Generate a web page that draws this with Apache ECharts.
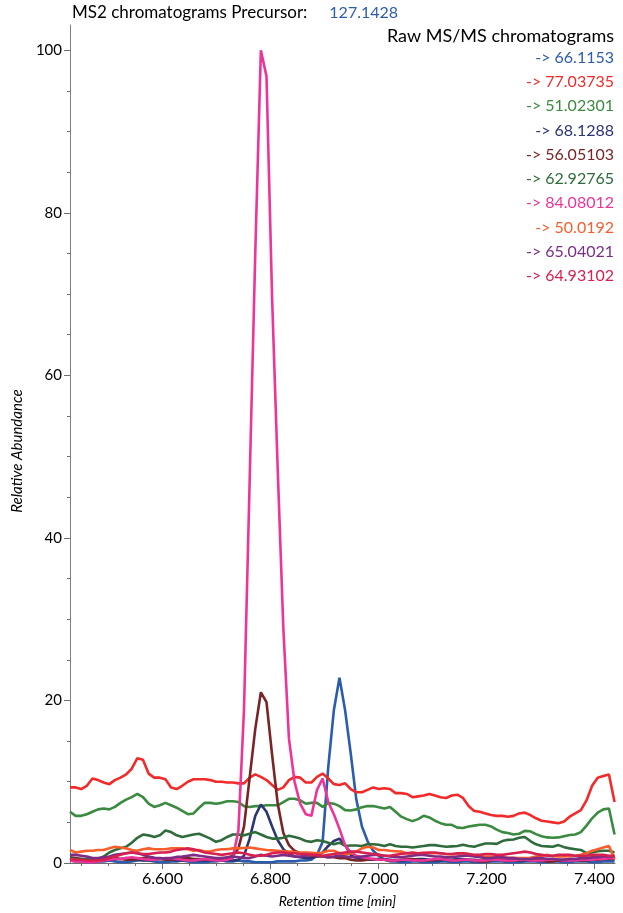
<!DOCTYPE html>
<html><head><meta charset="utf-8">
<script src="https://cdn.jsdelivr.net/npm/echarts@6/dist/echarts.min.js"></script>
<style>html,body{margin:0;padding:0;background:#fff}#c{width:623px;height:913px}</style>
</head><body><div id="c"></div>
<script>
// Retention times of the scans (min)
const times = [6.4287,6.4391,6.4495,6.4599,6.4703,6.4807,6.4911,6.5015,6.5119,6.5223,
6.5327,6.5431,6.5535,6.5639,6.5743,6.5847,6.5951,6.6055,6.6159,6.6263,
6.6367,6.6471,6.6575,6.6679,6.6783,6.6887,6.6991,6.7095,6.7199,6.7303,
6.7407,6.7511,6.7615,6.7719,6.7823,6.7927,6.8031,6.8135,6.8239,6.8343,
6.8447,6.8551,6.8655,6.8759,6.8863,6.8967,6.9071,6.9175,6.9279,6.9383,
6.9487,6.9591,6.9695,6.9799,6.9903,7.0007,7.0111,7.0215,7.0319,7.0423,
7.0527,7.0631,7.0735,7.0839,7.0943,7.1047,7.1151,7.1255,7.1359,7.1463,
7.1567,7.1671,7.1775,7.1879,7.1983,7.2087,7.2191,7.2295,7.2399,7.2503,
7.2607,7.2711,7.2815,7.2919,7.3023,7.3127,7.3231,7.3335,7.3439,7.3543,
7.3647,7.3751,7.3855,7.3959,7.4063,7.4167,7.4271,7.4375];

const mz66_1153 = [0.3,0.2,0.2,0.1,0.1,0.2,0.2,0.3,0.2,0.1,
0.1,0.2,0.3,0.4,0.3,0.2,0.1,0.1,0.2,0.2,
0.3,0.2,0.1,0.1,0.1,0.2,0.2,0.3,0.2,0.2,
0.3,0.2,0.2,0.1,0.1,0.1,0.1,0.2,0.2,0.2,
0.2,0.3,0.3,0.4,1.0,2.6,11.8,18.8,22.8,18.8,
13.5,7.8,4.5,2.7,1.5,0.9,0.4,0.2,0.2,0.1,
0.1,0.2,0.2,0.1,0.1,0.1,0.2,0.2,0.1,0.1,
0.2,0.2,0.1,0.1,0.1,0.2,0.2,0.2,0.1,0.1,
0.1,0.2,0.2,0.2,0.1,0.1,0.2,0.2,0.1,0.1,
0.2,0.2,0.2,0.1,0.1,0.2,0.2,0.2];

const mz77_03735 = [9.3,9.3,9.1,9.5,10.4,10.2,9.9,9.7,10.2,10.5,
10.9,11.6,12.9,12.7,11.0,10.5,10.5,10.3,9.3,9.1,
9.5,10.0,10.3,10.3,10.3,10.2,10.0,10.0,9.9,9.9,
9.8,9.8,10.5,10.9,10.6,10.2,9.6,9.0,9.3,10.2,
10.6,10.5,9.9,9.9,10.6,11.0,10.4,9.7,9.6,9.8,
9.1,8.7,8.7,9.0,9.3,9.1,9.2,9.1,8.6,8.6,
8.5,8.1,8.2,8.3,8.5,8.3,8.1,8.0,8.3,8.4,
8.0,7.0,6.4,6.3,6.1,5.9,5.8,5.8,5.7,5.8,
6.1,6.2,5.9,5.5,5.2,5.1,5.0,4.9,5.1,5.7,
6.1,6.5,7.7,9.5,10.5,10.7,10.9,7.5];

const mz51_02301 = [6.3,5.8,5.8,6.0,6.3,6.6,6.7,6.6,6.9,7.4,
7.8,8.1,8.5,8.1,7.3,6.9,7.1,7.4,7.1,6.8,
6.4,6.0,6.1,6.8,7.4,7.4,7.3,7.4,7.6,7.6,
7.5,7.0,6.9,7.0,7.0,7.1,7.1,7.1,7.5,7.9,
7.9,7.7,7.3,7.4,7.4,6.9,7.4,7.3,7.0,6.5,
6.45,6.6,6.85,7.0,7.0,6.85,6.7,6.9,6.3,5.7,
5.4,5.15,5.4,5.8,5.6,5.2,4.9,4.7,4.7,4.35,
4.3,4.5,4.6,4.7,4.7,4.5,4.1,3.8,3.7,3.5,
3.6,3.95,3.9,3.55,3.3,3.15,3.1,3.15,3.3,3.45,
3.5,3.8,4.6,5.5,6.2,6.6,6.7,3.5];

const mz68_1288 = [0.6,0.5,0.5,0.4,0.4,0.3,0.3,0.4,0.5,0.5,
0.6,0.5,0.4,0.3,0.3,0.4,0.5,0.5,0.4,0.3,
0.3,0.4,0.4,0.3,0.3,0.3,0.4,0.4,0.3,0.3,
0.4,0.9,3.0,5.8,7.2,6.3,4.5,2.8,1.7,1.1,
0.8,0.7,0.6,0.6,0.8,1.3,2.1,2.7,3.0,2.2,
1.0,0.6,0.5,0.4,0.4,0.5,0.5,0.4,0.3,0.3,
0.4,0.4,0.5,0.5,0.4,0.3,0.3,0.4,0.4,0.5,
0.5,0.4,0.4,0.3,0.3,0.4,0.4,0.5,0.5,0.4,
0.4,0.3,0.3,0.4,0.4,0.5,0.5,0.4,0.4,0.5,
0.5,0.5,0.6,0.6,0.5,0.5,0.6,0.6];

const mz56_05103 = [0.7,0.6,0.5,0.5,0.4,0.4,0.5,0.6,0.6,0.5,
0.4,0.4,0.5,0.6,0.7,0.6,0.5,0.4,0.4,0.5,
0.6,0.6,0.5,0.5,0.4,0.4,0.5,0.5,0.6,0.9,
1.8,4.5,10.5,16.5,21.0,19.8,13.3,7.3,3.7,2.2,
1.5,1.2,1.0,0.9,0.8,0.8,0.7,0.7,0.6,0.6,
0.4,0.3,0.3,0.4,0.5,0.5,0.4,0.3,0.3,0.4,
0.5,0.5,0.4,0.3,0.3,0.4,0.5,0.4,0.3,0.3,
0.4,0.4,0.3,0.2,0.2,0.3,0.4,0.4,0.3,0.3,
0.3,0.4,0.4,0.3,0.3,0.2,0.2,0.3,0.3,0.4,
0.4,0.3,0.3,0.4,0.4,0.5,0.5,0.5];

const mz62_92765 = [0.6,0.5,0.4,0.5,0.5,0.5,0.8,1.3,1.6,1.8,
2.0,2.5,3.1,3.5,3.4,3.2,3.4,4.0,3.8,3.4,
3.2,3.35,3.5,3.6,3.3,3.0,2.6,2.8,3.2,3.5,
3.5,3.4,3.6,3.8,3.5,3.2,3.0,3.0,3.1,3.35,
3.2,3.0,2.7,2.6,2.8,2.7,2.5,2.3,2.5,2.1,
2.15,2.15,2.1,2.3,2.3,2.25,2.1,2.3,2.1,2.0,
2.0,1.9,2.0,2.1,2.2,2.2,2.1,2.0,2.05,2.1,
2.25,2.1,2.0,2.2,2.4,2.4,2.35,2.7,2.85,2.9,
3.1,3.2,2.7,2.3,2.1,2.05,2.0,2.2,1.95,1.8,
1.7,1.6,1.2,1.3,1.45,1.5,1.5,1.3];

const mz84_08012 = [0.3,0.2,0.2,0.1,0.1,0.2,0.3,0.4,0.5,0.5,
0.6,0.7,0.6,0.5,0.4,0.4,0.5,0.6,0.6,0.5,
0.4,0.3,0.3,0.4,0.5,0.4,0.3,0.3,0.4,0.6,
4.0,19.0,47.0,75.0,100.0,96.8,69.5,48.4,28.9,15.3,
10.0,7.3,6.0,5.8,9.0,10.4,7.5,6.0,4.2,2.2,
1.3,0.9,0.7,0.6,0.5,0.4,0.4,0.3,0.3,0.4,
0.4,0.3,0.3,0.3,0.4,0.5,0.5,0.4,0.3,0.3,
0.4,0.4,0.3,0.3,0.3,0.4,0.4,0.3,0.3,0.3,
0.4,0.4,0.3,0.3,0.3,0.4,0.4,0.4,0.3,0.3,
0.3,0.4,0.4,0.4,0.5,0.5,0.6,0.6];

const mz50_0192 = [1.6,1.3,1.4,1.5,1.5,1.6,1.6,1.8,2.0,1.9,
1.8,1.6,1.5,1.7,1.8,1.7,1.7,1.7,1.8,1.8,
1.8,1.7,1.5,1.6,1.4,1.4,1.6,1.7,1.7,1.8,
1.8,1.85,1.9,1.8,1.7,1.6,1.55,1.5,1.45,1.4,
1.35,1.3,1.3,1.25,1.2,1.3,1.5,1.5,1.2,1.0,
1.2,1.4,1.8,2.0,1.9,1.6,1.6,1.5,1.45,1.4,
1.2,1.05,1.2,1.3,1.2,1.2,1.2,1.1,1.05,1.1,
1.2,1.1,0.9,0.8,0.8,0.8,0.75,0.7,0.65,0.65,
0.6,0.6,0.65,0.8,0.9,1.0,0.85,0.8,0.8,0.85,
0.9,1.0,1.2,1.5,1.7,1.9,2.1,0.5];

const mz65_04021 = [1.0,1.0,0.9,0.8,0.6,0.6,0.7,0.8,1.0,1.1,
1.2,1.3,1.2,1.0,0.8,0.65,0.6,0.55,0.6,0.75,
0.8,0.9,1.0,0.9,0.8,0.7,0.6,0.6,0.7,0.8,
0.7,0.6,0.6,0.8,1.0,0.9,0.8,0.9,1.0,0.9,
0.8,0.8,0.9,1.0,0.9,0.8,0.7,0.8,0.9,0.8,
0.7,0.7,0.8,0.9,1.0,1.0,0.9,0.8,0.7,0.7,
0.8,0.9,1.0,1.0,0.9,0.8,0.8,0.7,0.7,0.8,
0.9,0.9,0.8,0.7,0.6,0.6,0.7,0.7,0.6,0.6,
0.5,0.5,0.5,0.6,0.6,0.5,0.5,0.4,0.4,0.5,
0.5,0.6,0.6,0.7,0.7,0.8,0.8,0.8];

const mz64_93102 = [0.5,0.4,0.4,0.3,0.3,0.3,0.4,0.6,0.8,1.0,
1.2,1.3,1.2,1.1,1.1,1.2,1.3,1.3,1.4,1.6,
1.7,1.8,1.7,1.5,1.3,1.2,1.1,1.0,1.1,1.2,
1.3,1.2,1.0,0.9,0.9,1.0,1.2,1.3,1.3,1.2,
1.2,1.1,1.1,1.0,1.0,0.9,1.0,1.1,1.2,1.3,
1.4,1.4,1.3,1.2,1.1,1.0,0.9,0.9,1.0,1.1,
1.2,1.3,1.2,1.2,1.3,1.3,1.2,1.1,1.1,1.2,
1.2,1.1,1.0,1.0,1.1,1.1,1.0,1.0,1.1,1.2,
1.3,1.4,1.3,1.1,1.0,0.9,0.9,1.0,1.0,1.0,
0.9,0.9,0.9,1.0,1.0,1.0,0.9,0.9];

const seriesNames = ['66.1153','77.03735','51.02301','68.1288','56.05103','62.92765','84.08012','50.0192','65.04021','64.93102'];
const seriesValues = [mz66_1153, mz77_03735, mz51_02301, mz68_1288, mz56_05103, mz62_92765, mz84_08012, mz50_0192, mz65_04021, mz64_93102];
const seriesColors = ['#2b5cad','#f22a2a','#3a8a40','#2c3575','#7a2426','#2f6b3b','#ee3399','#f85e2c','#7b2d86','#d6204f'];

const xMajorTicks = [6.6, 6.8, 7.0, 7.2, 7.4];
const xMinorTicks = [6.45, 6.5, 6.55, 6.65, 6.7, 6.75, 6.85, 6.9, 6.95, 7.05, 7.1, 7.15, 7.25, 7.3, 7.35];
const yMajorTicks = [0, 20, 40, 60, 80, 100];
const yMinorTicks = [5, 10, 15, 25, 30, 35, 45, 50, 55, 65, 70, 75, 85, 90, 95];

const precursor = '127.1428';
const legendTitle = 'Raw MS/MS chromatograms';

const FONT = 'Lato';
const X_MIN = 6.4287, X_MAX = 7.4383, Y_MAX = 103.1;

const chart = echarts.init(document.getElementById('c'), null, {renderer: 'canvas'});

const series = seriesNames.map((n, i) => ({
  name: n,
  type: 'line',
  xAxisIndex: 0, yAxisIndex: 0,
  data: times.map((t, k) => [t, seriesValues[i][k]]),
  showSymbol: false,
  symbol: 'none',
  lineStyle: {color: seriesColors[i], width: 2.6},
  itemStyle: {color: seriesColors[i]},
  clip: true,
  z: 2 + i
}));

const legendGraphics = [{
  type: 'text', x: 614, y: 36,
  style: {text: legendTitle, fill: '#000', fontFamily: FONT, fontSize: 18, align: 'right', verticalAlign: 'middle'}
}].concat(seriesNames.map((n, i) => ({
  type: 'text', x: 614, y: 57.5 + 24.3 * i,
  style: {text: '-> ' + n, fill: seriesColors[i], fontFamily: FONT, fontSize: 16, align: 'right', verticalAlign: 'middle'}
})));

chart.setOption({
  animation: false,
  backgroundColor: '#fff',
  title: {
    left: 72, top: 4, padding: 0,
    text: '{a|MS2 chromatograms Precursor:}{b|' + precursor + '}',
    textStyle: {
      fontWeight: 'normal',
      rich: {
        a: {fontFamily: FONT, fontSize: 17, fontWeight: 'normal', color: '#000'},
        b: {fontFamily: FONT, fontSize: 16, fontWeight: 'normal', color: '#2b5cad', padding: [0, 0, 0, 22]}
      }
    }
  },
  grid: {left: 70, right: 8, top: 25, bottom: 50, containLabel: false, outerBoundsMode: 'none'},
  xAxis: [{
    type: 'value', min: X_MIN, max: X_MAX,
    name: 'Retention time [min]', nameLocation: 'middle', nameGap: 31,
    nameTextStyle: {fontFamily: FONT, fontStyle: 'italic', fontSize: 14, color: '#000', padding: [0, 10, 0, 0]},
    axisLine: {show: true, onZero: false, lineStyle: {color: '#6e6e6e', width: 1}},
    axisTick: {show: true, customValues: xMajorTicks, length: 6, lineStyle: {color: '#6e6e6e'}},
    axisLabel: {show: true, customValues: xMajorTicks, formatter: v => Number(v).toFixed(3), margin: 8, fontFamily: FONT, fontSize: 16, color: '#000'},
    splitLine: {show: false}
  }, {
    type: 'value', min: X_MIN, max: X_MAX, position: 'bottom', offset: 0,
    axisLine: {show: false, onZero: false},
    axisTick: {show: true, customValues: xMinorTicks, length: 3, lineStyle: {color: '#6e6e6e'}},
    axisLabel: {show: false},
    splitLine: {show: false}
  }],
  yAxis: [{
    type: 'value', min: 0, max: Y_MAX, position: 'left',
    name: 'Relative Abundance', nameLocation: 'middle', nameGap: 38,
    nameTextStyle: {fontFamily: FONT, fontStyle: 'italic', fontSize: 15, color: '#000', padding: [0, 14, 0, 0]},
    axisLine: {show: true, onZero: false, lineStyle: {color: '#7f7f7f', width: 1}},
    axisTick: {show: true, customValues: yMajorTicks, length: 6, lineStyle: {color: '#6e6e6e'}},
    axisLabel: {show: true, customValues: yMajorTicks, margin: 8, fontFamily: FONT, fontSize: 15, color: '#000'},
    splitLine: {show: false}
  }, {
    type: 'value', min: 0, max: Y_MAX, position: 'left', offset: 0,
    axisLine: {show: false, onZero: false},
    axisTick: {show: true, customValues: yMinorTicks, length: 3, lineStyle: {color: '#6e6e6e'}},
    axisLabel: {show: false},
    splitLine: {show: false}
  }],
  graphic: legendGraphics,
  series: series
});
</script>
</body></html>
